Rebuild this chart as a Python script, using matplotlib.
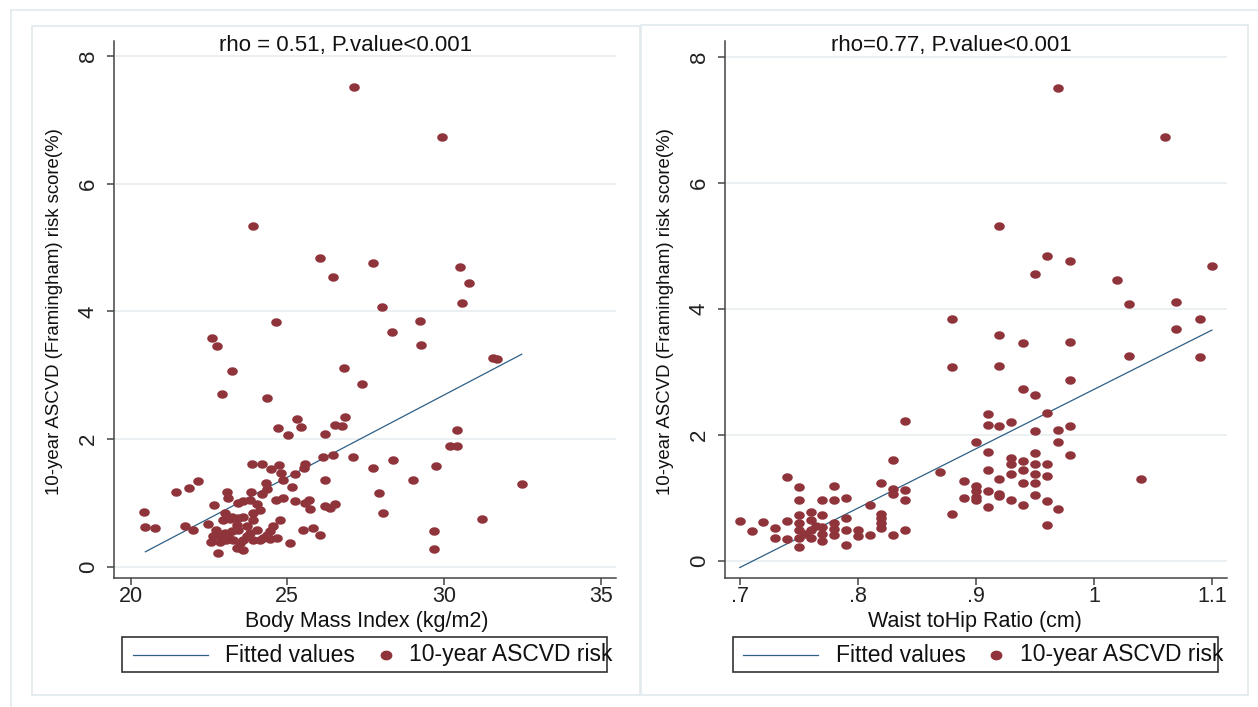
import numpy as np
import matplotlib
matplotlib.use('Agg')
import matplotlib.pyplot as plt
from matplotlib.path import Path
from matplotlib.patches import Rectangle
from matplotlib.lines import Line2D

plt.rcParams['font.family'] = ['Liberation Sans', 'DejaVu Sans']

# ---- data ----
bmi = [27.12, 29.94, 23.89, 26.05, 27.73, 30.52, 26.46, 30.81, 30.58, 28.01, 24.64, 29.22, 28.33,
       22.61, 22.76, 29.28, 31.58, 31.68, 23.23, 26.82, 27.39, 22.93, 24.35,
       25.30, 26.83, 24.69, 25.44, 26.52, 26.75, 25.03, 26.20, 30.40, 30.19, 30.40,
       26.15, 26.45, 27.10, 28.36, 27.74, 29.74, 29.00, 32.48, 26.20, 27.93, 28.04, 31.20, 29.69, 29.69,
       26.20, 26.36, 26.52, 25.51, 25.83, 26.04, 25.08,
       20.43, 20.46, 20.78, 21.45, 21.85, 22.14, 21.73, 21.99, 22.48, 22.67, 22.80,
       23.88, 24.18, 24.48, 24.72, 24.80, 24.85, 25.57, 25.52, 25.24, 25.15, 24.31, 24.34, 24.18,
       23.08, 23.12, 23.84, 24.64, 24.87, 25.25, 25.57, 25.68, 25.72, 23.43, 23.59, 23.81, 24.02,
       24.13, 23.92, 22.96, 23.17, 23.43, 23.59, 24.77, 24.55, 24.45, 24.34, 24.13, 23.92,
       22.74, 22.85, 22.64, 22.58, 23.01, 23.22, 23.43, 23.70, 23.81, 23.59, 23.49, 23.27, 23.06,
       22.85, 23.38, 23.59, 23.12, 23.70, 24.02, 24.23, 24.45, 24.66, 23.38, 23.92, 23.01, 23.22]
risk_bmi = [7.51, 6.73, 5.33, 4.83, 4.76, 4.69, 4.54, 4.44, 4.13, 4.07, 3.83, 3.85, 3.68,
            3.58, 3.46, 3.47, 3.27, 3.25, 3.07, 3.11, 2.87, 2.71, 2.64,
            2.32, 2.35, 2.17, 2.19, 2.23, 2.20, 2.07, 2.08, 2.15, 1.89, 1.90,
            1.73, 1.75, 1.73, 1.67, 1.55, 1.58, 1.36, 1.30, 1.37, 1.16, 0.85, 0.76, 0.56, 0.28,
            0.96, 0.92, 0.99, 0.58, 0.61, 0.51, 0.38,
            0.86, 0.63, 0.61, 1.17, 1.24, 1.35, 0.64, 0.58, 0.68, 0.97, 0.22,
            1.61, 1.62, 1.53, 1.60, 1.47, 1.37, 1.61, 1.55, 1.46, 1.25, 1.31, 1.23, 1.15,
            1.18, 1.08, 1.18, 1.05, 1.08, 1.04, 1.01, 1.05, 0.91, 1.00, 1.03, 1.05, 0.98,
            0.90, 0.85, 0.74, 0.75, 0.77, 0.79, 0.74, 0.64, 0.56, 0.51, 0.43, 0.43,
            0.58, 0.51, 0.48, 0.39, 0.53, 0.56, 0.58, 0.64, 0.53, 0.43, 0.38, 0.43, 0.43,
            0.40, 0.30, 0.27, 0.48, 0.48, 0.58, 0.45, 0.44, 0.45, 0.66, 0.74, 0.85, 0.79]

whr = [0.97, 1.06, 0.92, 0.96, 0.98, 1.10, 0.95, 1.02, 1.03, 1.07, 0.88, 1.09, 1.07, 0.92, 0.94,
       0.98, 1.03, 1.09, 0.88, 0.92, 0.98, 0.94, 0.95,
       0.91, 0.91, 0.92, 0.93, 0.95, 0.96, 0.97, 0.97, 0.98, 0.98, 0.90, 0.91, 0.93, 0.93, 0.94,
       0.95, 0.95, 0.96, 0.91, 0.93, 0.94, 0.95, 0.96, 0.92, 0.94, 0.95, 0.89, 0.90, 0.90, 0.91,
       0.92, 0.92, 0.89, 0.90, 0.90, 0.93, 0.94, 0.95, 0.96, 0.97, 0.91, 0.88, 0.96, 1.04, 0.87,
       0.84, 0.83, 0.82, 0.83, 0.83, 0.84, 0.84, 0.81, 0.82, 0.82, 0.82, 0.82, 0.83, 0.84, 0.81,
       0.80, 0.80, 0.79, 0.79, 0.79, 0.79, 0.78, 0.78, 0.78, 0.78, 0.77, 0.77, 0.77, 0.77, 0.77,
       0.76, 0.76, 0.76, 0.76, 0.75, 0.75, 0.75, 0.75, 0.75, 0.75, 0.75, 0.74, 0.74, 0.74,
       0.73, 0.73, 0.72, 0.71, 0.70, 0.78, 0.765, 0.755]
risk_whr = [7.50, 6.73, 5.32, 4.83, 4.75, 4.68, 4.55, 4.45, 4.08, 4.11, 3.83, 3.83, 3.68, 3.58, 3.45,
            3.47, 3.25, 3.23, 3.08, 3.09, 2.86, 2.72, 2.63,
            2.32, 2.16, 2.13, 2.20, 2.05, 2.34, 2.08, 1.89, 2.13, 1.67, 1.89, 1.73, 1.63, 1.54, 1.58,
            1.71, 1.54, 1.54, 1.44, 1.37, 1.44, 1.38, 1.34, 1.30, 1.23, 1.23, 1.27, 1.19, 1.11, 1.11,
            1.06, 1.03, 0.99, 1.01, 0.97, 0.97, 0.89, 1.04, 0.94, 0.82, 0.85, 0.74, 0.56, 1.29, 1.41,
            2.21, 1.59, 1.23, 1.14, 1.06, 1.12, 0.97, 0.89, 0.74, 0.67, 0.60, 0.51, 0.41, 0.49, 0.41,
            0.48, 0.39, 0.99, 0.67, 0.48, 0.25, 1.19, 0.97, 0.59, 0.40, 0.96, 0.73, 0.53, 0.43, 0.31,
            0.77, 0.64, 0.48, 0.36, 1.17, 0.96, 0.72, 0.60, 0.48, 0.36, 0.22, 1.33, 0.63, 0.35,
            0.51, 0.36, 0.61, 0.47, 0.63, 0.50, 0.55, 0.42]

# fitted lines (end points)
fit_bmi_x = [20.47, 32.48]
fit_bmi_y = [0.24, 3.33]
fit_whr_x = [0.70, 1.10]
fit_whr_y = [-0.11, 3.66]

yticks = [0, 2, 4, 6, 8]
bmi_ticks = [20, 25, 30, 35]
whr_ticks = [0.7, 0.8, 0.9, 1.0, 1.1]
whr_labels = ['.7', '.8', '.9', '1', '1.1']

ylabel = '10-year ASCVD (Framingham) risk score(%)'
maroon = '#8f343b'
navy = '#2e5f86'
grid_c = '#e6eef0'
frame_c = '#e2eaee'

W, H = 1258, 707
fig = plt.figure(figsize=(W / 100, H / 100), dpi=100)


def fx(x):
    return x / W


def fy(y):
    return 1 - y / H


# outer frame and panel borders
fig.add_artist(Line2D([fx(11), 1], [fy(10), fy(10)], color=frame_c, lw=1.2))
fig.add_artist(Line2D([fx(11), fx(11)], [fy(10), 0], color=frame_c, lw=1.2))
for x0, y0, x1 in [(32, 26, 640), (641, 25, 1248)]:
    fig.add_artist(Rectangle((fx(x0), fy(695)), fx(x1 - x0), fy(y0) - fy(695),
                             fill=False, edgecolor=frame_c, lw=1.2))

# ellipse-ish marker (picture is squashed vertically)
t = np.linspace(0, 2 * np.pi, 41)
dot = Path(np.column_stack([np.cos(t), 0.8 * np.sin(t)]), closed=True)


def panel(left, right, xlim, ylim, x, y, fx_, fy_, xt, xtl, xlabel, title,
          title_x, xlabel_x, ylabel_x, box, leg):
    ax = fig.add_axes([fx(left), fy(578), fx(right - left), fy(41) - fy(578)])
    ax.set_xlim(xlim)
    ax.set_ylim(ylim)
    for yv in yticks:
        ax.axhline(yv, color=grid_c, lw=1.1, zorder=0)
    ax.plot(fx_, fy_, color=navy, lw=0.9, zorder=2)
    ax.scatter(x, y, s=58, marker=dot, color=maroon, linewidths=0, zorder=3)
    ax.spines['top'].set_visible(False)
    ax.spines['right'].set_visible(False)
    for s in ['left', 'bottom']:
        ax.spines[s].set_color('#444444')
        ax.spines[s].set_linewidth(1.1)
    ax.set_yticks(yticks)
    ax.set_yticklabels([str(v) for v in yticks], rotation=90, va='center')
    ax.set_xticks(xt)
    ax.set_xticklabels(xtl)
    ax.tick_params(axis='both', length=5, width=1.1, color='#444444',
                   labelcolor='#222222')
    ax.tick_params(axis='x', pad=1, labelsize=15.5)
    ax.tick_params(axis='y', pad=6, labelsize=16)
    ax.patch.set_alpha(0)

    fig.text(fx(title_x), fy(45), title, ha='center', va='center', fontsize=16, color='#111111')
    fig.text(fx(xlabel_x), fy(622), xlabel, ha='center', va='center', fontsize=15.5, color='#111111')
    fig.text(fx(ylabel_x), fy(312), ylabel, ha='center', va='center', rotation=90,
             fontsize=13.4, color='#111111')

    # legend box, drawn like stata's
    bx0, bx1 = box
    fig.add_artist(Rectangle((fx(bx0), fy(672)), fx(bx1 - bx0), fy(637) - fy(672),
                             fill=False, edgecolor='#333333', lw=1.2))
    lx0, lx1, t1, mx, t2 = leg
    fig.add_artist(Line2D([fx(lx0), fx(lx1)], [fy(655), fy(655)], color=navy, lw=0.9))
    fig.add_artist(Line2D([fx(mx)], [fy(655)], marker=dot, markersize=7.5, color=maroon, lw=0))
    fig.text(fx(t1), fy(655), 'Fitted values', ha='left', va='center', fontsize=16.5, color='#111111')
    fig.text(fx(t2), fy(655), '10-year ASCVD risk', ha='left', va='center', fontsize=16.5,
             color='#111111')
    return ax


panel(114, 616, (19.47, 35.49), (-0.17, 8.23), bmi, risk_bmi, fit_bmi_x, fit_bmi_y,
      bmi_ticks, [str(v) for v in bmi_ticks], 'Body Mass Index (kg/m2)',
      'rho = 0.51, P.value<0.001', 346, 367, 55, (122, 607), (133, 208, 225, 386, 409))
panel(725, 1227, (0.6875, 1.1128), (-0.276, 8.25), whr, risk_whr, fit_whr_x, fit_whr_y,
      whr_ticks, whr_labels, 'Waist toHip Ratio (cm)',
      'rho=0.77, P.value<0.001', 951, 975, 666, (733, 1218), (743, 818, 836, 996, 1020))

fig.savefig('out.png', dpi=100)
